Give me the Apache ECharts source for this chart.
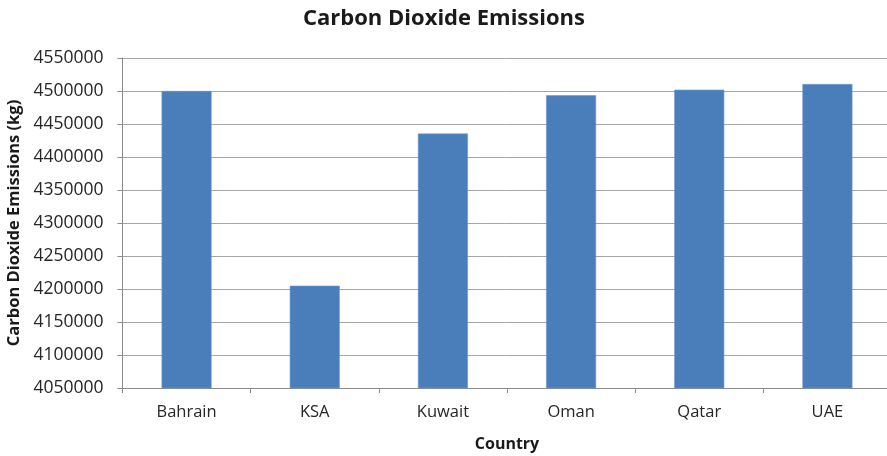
<!DOCTYPE html>
<html>
<head>
<meta charset="utf-8">
<script src="https://cdn.jsdelivr.net/npm/echarts@6/dist/echarts.min.js"></script>
<style>
  html, body { margin: 0; padding: 0; background: #ffffff; }
  #chart { width: 887px; height: 456px; }
</style>
</head>
<body>
<div id="chart"></div>
<script>
// Emissions per country, in kg
const countries = ['Bahrain', 'KSA', 'Kuwait', 'Oman', 'Qatar', 'UAE'];
const emissions = [4500000, 4205000, 4435500, 4493500, 4502000, 4510500];

// Value axis range and step
const yMin = 4050000;
const yMax = 4550000;
const yStep = 50000;

const FONT = '"Open Sans", "Noto Sans", sans-serif';

const chart = echarts.init(document.getElementById('chart'), null, { renderer: 'canvas' });

chart.setOption({
  backgroundColor: '#ffffff',
  animation: false,
  title: {
    text: 'Carbon Dioxide Emissions',
    left: 439,
    textAlign: 'center',
    top: 3,
    textStyle: { fontFamily: FONT, fontWeight: 'bold', fontSize: 22, color: '#1a1a1a' }
  },
  grid: {
    left: 122.5, top: 58, width: 769, height: 330,
    containLabel: false,
    outerBoundsMode: 'none'
  },
  xAxis: {
    type: 'category',
    data: countries,
    name: 'Country',
    nameLocation: 'middle',
    nameGap: 48,
    nameTextStyle: { fontFamily: FONT, fontWeight: 'bold', fontSize: 16, color: '#1a1a1a' },
    axisLine: { lineStyle: { color: '#8a8a8a', width: 1 } },
    axisTick: { show: true, alignWithLabel: false, length: 5, lineStyle: { color: '#8a8a8a' } },
    axisLabel: { fontFamily: FONT, fontSize: 16.5, color: '#262626', margin: 16 },
    splitLine: { show: false }
  },
  yAxis: {
    type: 'value',
    min: yMin,
    max: yMax,
    interval: yStep,
    name: 'Carbon Dioxide Emissions (kg)',
    nameLocation: 'middle',
    nameRotate: 90,
    nameGap: 92,
    nameTextStyle: { fontFamily: FONT, fontWeight: 'bold', fontSize: 16.5, color: '#1a1a1a' },
    axisLine: { show: true, lineStyle: { color: '#8a8a8a', width: 1 } },
    axisTick: { show: true, length: 5, lineStyle: { color: '#8a8a8a' } },
    axisLabel: {
      fontFamily: FONT, fontSize: 17.5, color: '#262626', margin: 19,
      formatter: (v) => String(v)
    },
    splitLine: { show: true, lineStyle: { color: '#a6a6a6', width: 1 } }
  },
  series: [{
    type: 'bar',
    data: emissions,
    barWidth: 50,
    itemStyle: { color: '#4a7ebb', borderColor: '#6f98cc', borderWidth: 0.6 }
  }]
});
</script>
</body>
</html>
